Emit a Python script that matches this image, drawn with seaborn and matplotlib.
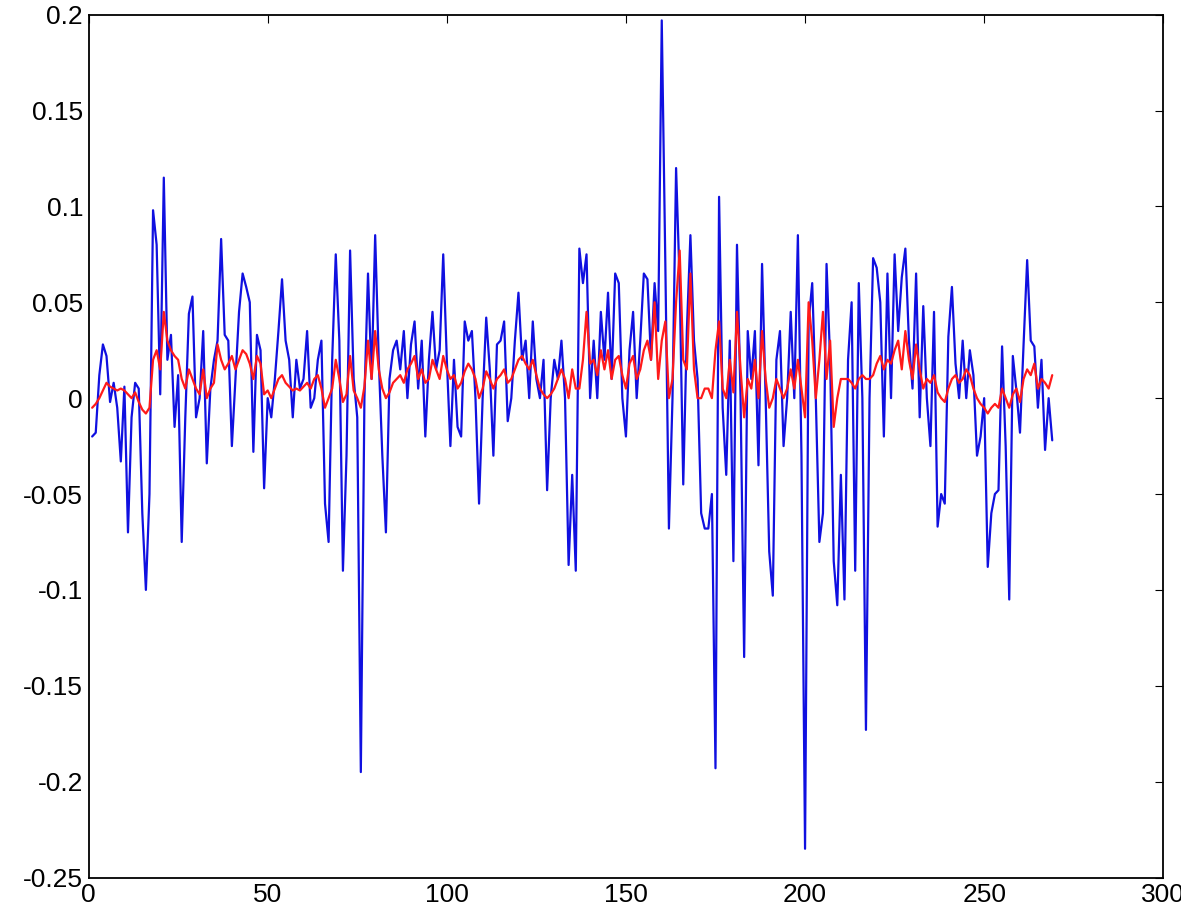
import numpy as np
import pandas as pd
import seaborn as sns
import matplotlib
matplotlib.use("Agg")
import matplotlib.pyplot as plt

# Series values (index 1..269)
blue = [
    -0.02, -0.018, 0.012, 0.028, 0.022, -0.002, 0.008, -0.005, -0.033, 0.006,
    -0.07, -0.01, 0.008, 0.005, -0.06, -0.1, -0.05, 0.098, 0.08, 0.002,
    0.115, 0.02, 0.033, -0.015, 0.012, -0.075, -0.01, 0.044, 0.053, -0.01,
    0.0, 0.035, -0.034, 0.005, 0.02, 0.03, 0.083, 0.033, 0.03, -0.025,
    0.01, 0.045, 0.065, 0.058, 0.05, -0.028, 0.033, 0.025, -0.047, 0.0,
    -0.01, 0.01, 0.035, 0.062, 0.03, 0.02, -0.01, 0.02, 0.005, 0.01,
    0.035, -0.005, 0.0, 0.02, 0.03, -0.055, -0.075, 0.02, 0.075, 0.03,
    -0.09, -0.03, 0.077, 0.01, -0.01, -0.195, 0.0, 0.065, 0.01, 0.085,
    0.02, -0.03, -0.07, 0.01, 0.025, 0.03, 0.015, 0.035, 0.0, 0.028,
    0.04, 0.005, 0.03, -0.02, 0.02, 0.045, 0.015, 0.025, 0.075, 0.02,
    -0.025, 0.02, -0.015, -0.02, 0.04, 0.03, 0.035, 0.0, -0.055, 0.0,
    0.042, 0.015, -0.03, 0.028, 0.03, 0.04, -0.012, 0.0, 0.03, 0.055,
    0.02, 0.03, 0.0, 0.04, 0.01, 0.0, 0.02, -0.048, 0.0, 0.02,
    0.01, 0.03, 0.0, -0.087, -0.04, -0.09, 0.078, 0.06, 0.075, 0.0,
    0.03, 0.0, 0.045, 0.02, 0.055, 0.01, 0.065, 0.06, 0.0, -0.02,
    0.025, 0.045, 0.0, 0.03, 0.065, 0.062, 0.02, 0.06, 0.035, 0.197,
    0.07, -0.068, 0.0, 0.12, 0.06, -0.045, 0.035, 0.085, 0.03, 0.01,
    -0.06, -0.068, -0.068, -0.05, -0.193, 0.105, -0.005, -0.04, 0.03, -0.085,
    0.08, 0.0, -0.135, 0.035, 0.01, 0.035, -0.035, 0.07, 0.0, -0.08,
    -0.103, 0.02, 0.035, -0.025, 0.0, 0.045, 0.0, 0.085, -0.03, -0.235,
    0.04, 0.06, 0.0, -0.075, -0.06, 0.07, 0.02, -0.085, -0.108, -0.04,
    -0.105, 0.02, 0.05, -0.09, 0.06, 0.0, -0.173, 0.0, 0.073, 0.068,
    0.05, -0.02, 0.065, 0.0, 0.075, 0.035, 0.063, 0.078, 0.03, 0.005,
    0.065, -0.01, 0.048, 0.0, -0.025, 0.045, -0.067, -0.05, -0.055, 0.032,
    0.058, 0.018, 0.0, 0.03, 0.0, 0.025, 0.012, -0.03, -0.02, 0.0,
    -0.088, -0.06, -0.05, -0.048, 0.027, -0.025, -0.105, 0.022, 0.004, -0.018,
    0.028, 0.072, 0.03, 0.027, -0.005, 0.02, -0.027, 0.0, -0.022,
]

red = [
    -0.005, -0.003, 0.0, 0.004, 0.008, 0.006, 0.005, 0.004, 0.005, 0.004,
    0.002, 0.0, 0.003, -0.002, -0.006, -0.008, -0.005, 0.02, 0.025, 0.015,
    0.045, 0.03, 0.025, 0.022, 0.02, 0.01, 0.005, 0.015, 0.01, 0.005,
    0.002, 0.015, 0.0, 0.005, 0.008, 0.028, 0.02, 0.015, 0.018, 0.022,
    0.015, 0.02, 0.025, 0.023, 0.018, 0.01, 0.022, 0.018, 0.002, 0.004,
    0.0, 0.005, 0.01, 0.012, 0.008, 0.006, 0.004, 0.005, 0.004, 0.006,
    0.008, 0.005, 0.01, 0.012, 0.005, -0.005, 0.0, 0.005, 0.02, 0.01,
    -0.002, 0.002, 0.022, 0.004, 0.0, -0.005, 0.006, 0.03, 0.01, 0.035,
    0.015, 0.005, 0.0, 0.003, 0.008, 0.01, 0.012, 0.008, 0.015, 0.018,
    0.022, 0.01, 0.015, 0.008, 0.01, 0.02, 0.015, 0.01, 0.022, 0.015,
    0.01, 0.012, 0.005, 0.008, 0.014, 0.018, 0.015, 0.01, 0.0, 0.005,
    0.014, 0.01, 0.005, 0.01, 0.012, 0.015, 0.008, 0.01, 0.015, 0.02,
    0.022, 0.018, 0.015, 0.02, 0.012, 0.005, 0.002, 0.0, 0.002, 0.005,
    0.01, 0.015, 0.01, 0.0, 0.015, 0.005, 0.005, 0.02, 0.045, 0.018,
    0.02, 0.012, 0.025, 0.015, 0.025, 0.01, 0.02, 0.022, 0.012, 0.005,
    0.018, 0.022, 0.01, 0.015, 0.025, 0.03, 0.02, 0.05, 0.01, 0.03,
    0.04, 0.0, 0.01, 0.05, 0.077, 0.02, 0.015, 0.065, 0.015, 0.0,
    0.0, 0.005, 0.005, 0.0, 0.025, 0.04, 0.005, 0.0, 0.02, 0.003,
    0.045, 0.015, -0.01, 0.01, 0.005, 0.02, 0.0, 0.035, 0.01, -0.005,
    0.0, 0.01, 0.005, 0.0, 0.005, 0.015, 0.005, 0.02, 0.005, -0.01,
    0.05, 0.03, 0.0, 0.02, 0.045, 0.01, 0.03, -0.015, 0.0, 0.01,
    0.01, 0.01, 0.008, 0.005, 0.01, 0.012, 0.01, 0.01, 0.012, 0.018,
    0.022, 0.015, 0.02, 0.018, 0.025, 0.03, 0.015, 0.035, 0.02, 0.01,
    0.028, 0.015, 0.005, 0.01, 0.008, 0.012, 0.003, 0.0, -0.002, 0.005,
    0.01, 0.012, 0.008, 0.01, 0.015, 0.012, 0.005, 0.0, -0.003, -0.005,
    -0.008, -0.005, -0.003, -0.005, 0.005, 0.0, -0.005, 0.002, 0.005, -0.002,
    0.01, 0.015, 0.012, 0.018, 0.005, 0.01, 0.008, 0.005, 0.012,
]

x = np.arange(1, len(blue) + 1)
df = pd.DataFrame({"x": x, "blue": blue, "red": red})

sns.set_style("white")
plt.rcParams["font.family"] = ["Liberation Sans", "DejaVu Sans"]

fig = plt.figure(figsize=(11.81, 9.16), dpi=100)
ax = fig.add_axes([0.075, 0.042, 0.91, 0.942])

sns.lineplot(data=df, x="x", y="blue", color="#1010e0", linewidth=1.6, ax=ax)
sns.lineplot(data=df, x="x", y="red", color="#ff1a1a", linewidth=1.6, ax=ax)

ax.set_xlim(0, 300)
ax.set_ylim(-0.25, 0.2)
ax.set_xticks(range(0, 301, 50))
ax.set_yticks(np.arange(-0.25, 0.21, 0.05))
ax.set_yticklabels(["-0.25", "-0.2", "-0.15", "-0.1", "-0.05", "0",
                    "0.05", "0.1", "0.15", "0.2"])
ax.set_xlabel("")
ax.set_ylabel("")
ax.tick_params(direction="in", length=6, top=True, right=True,
               labelsize=19, colors="black", pad=4)
for s in ax.spines.values():
    s.set_color("black")
    s.set_linewidth(1.3)

fig.savefig("out.png", dpi=100)
